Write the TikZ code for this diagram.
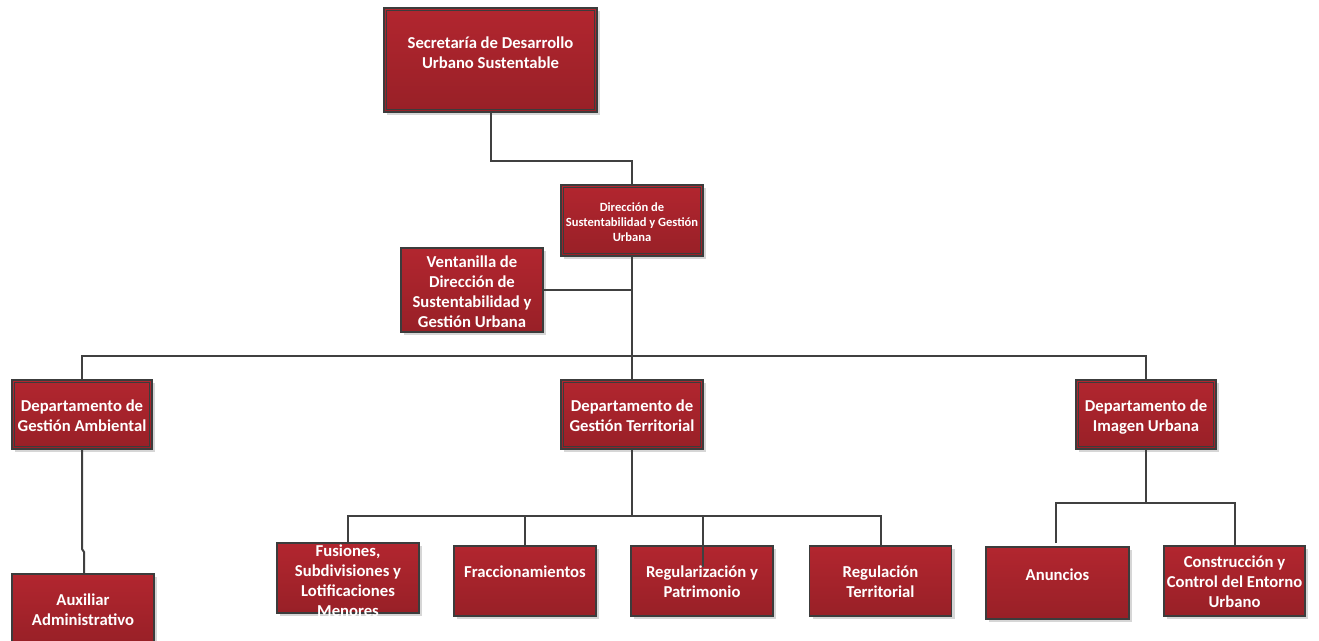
\documentclass[tikz,border=0pt]{standalone}
\usepackage{fontspec}
\setmainfont{Carlito}
\usetikzlibrary{shadows}
\definecolor{boxtop}{HTML}{B2262F}
\definecolor{boxbot}{HTML}{982027}
\definecolor{edgec}{HTML}{3C3C3C}
\definecolor{wirec}{HTML}{404040}
\tikzset{
  orgbox/.style={rectangle, draw=edgec, line width=0.8pt, top color=boxtop, bottom color=boxbot,
    inner sep=0pt,
    general shadow={fill=black!16, shadow xshift=2.5pt, shadow yshift=-2.5pt}},
  dbl/.style={path picture={\draw[edgec, line width=0.6pt]
    ([shift={(2pt,-2pt)}]path picture bounding box.north west) rectangle
    ([shift={(-2pt,2pt)}]path picture bounding box.south east);}},
  boxtext/.style={text=white, font=\bfseries\fontsize{12.5}{15}\selectfont, align=center, inner sep=0pt,
    execute at begin node=\strut, execute at end node=\strut},
  smalltext/.style={boxtext, font=\bfseries\fontsize{9.4}{11.25}\selectfont},
  wire/.style={draw=wirec, line width=1.5pt},
}
\begin{document}
\begin{tikzpicture}[x=0.75pt,y=-0.75pt]
\useasboundingbox (0,0) rectangle (1319,641);
\fill[white] (0,0) rectangle (1319,641);

% boxes
\node[orgbox,dbl,minimum width=159.75pt,minimum height=78pt] (sec) at (490.5,60) {};
\node[boxtext] (sec-t) at (490.5,56) {Secretaría de Desarrollo\\Urbano Sustentable};

\node[orgbox,dbl,minimum width=106.5pt,minimum height=53.25pt] (dir) at (632,220.5) {};
\node[smalltext] (dir-t) at ([yshift=-3pt]dir.center) {Dirección de\\Sustentabilidad y Gestión\\Urbana};

\node[orgbox,minimum width=106.5pt,minimum height=63pt] (ven) at (472,290) {};
\node[boxtext] (ven-t) at ([yshift=-3.5pt]ven.center) {Ventanilla de\\Dirección de\\Sustentabilidad y\\Gestión Urbana};

\node[orgbox,dbl,minimum width=105pt,minimum height=51.75pt] (amb) at (82,414.5) {};
\node[boxtext] (amb-t) at ([yshift=-3pt]amb.center) {Departamento de\\Gestión Ambiental};
\node[orgbox,dbl,minimum width=106.5pt,minimum height=51.75pt] (ter) at (632,414.5) {};
\node[boxtext] (ter-t) at ([yshift=-3pt]ter.center) {Departamento de\\Gestión Territorial};
\node[orgbox,dbl,minimum width=105pt,minimum height=51.75pt] (img) at (1146,414.5) {};
\node[boxtext] (img-t) at ([yshift=-3pt]img.center) {Departamento de\\Imagen Urbana};

\node[orgbox,minimum width=106.5pt,minimum height=52.5pt] (aux) at (83,609) {};
\node[boxtext] (aux-t) at ([yshift=-2.5pt]aux.center) {Auxiliar\\Administrativo};

\node[orgbox,minimum width=106.5pt,minimum height=52.5pt] (fus) at (348,578) {};
\node[boxtext] (fus-t) at ([yshift=-4pt]fus.center) {Fusiones,\\Subdivisiones y\\Lotificaciones\\Menores};
\node[orgbox,minimum width=106.5pt,minimum height=52.5pt] (fra) at (525,581) {};
\node[boxtext] (fra-t) at (525,573) {Fraccionamientos};
\node[orgbox,minimum width=106.5pt,minimum height=52.5pt] (reg) at (702,581) {};
\node[boxtext] (reg-t) at ([yshift=-3pt]reg.center) {Regularización y\\Patrimonio};
\node[orgbox,minimum width=106.5pt,minimum height=52.5pt] (rgt) at (880.5,581) {};
\node[boxtext] (rgt-t) at ([yshift=-3pt]rgt.center) {Regulación\\Territorial};

\node[orgbox,minimum width=107.25pt,minimum height=54pt] (anu) at (1057.5,583) {};
\node[boxtext] (anu-t) at (1057.5,576) {Anuncios};
\node[orgbox,minimum width=105.75pt,minimum height=52.5pt] (con) at (1234.5,581) {};
\node[boxtext] (con-t) at ([yshift=-3pt]con.center) {Construcción y\\Control del Entorno\\Urbano};

% connectors
\draw[wire] (sec.south) -- ++(0,48) -| (dir.north);
\coordinate (bus) at (632,356);
\draw[wire] (dir.south) -- (bus);
\draw[wire] (ven.east) -- (ven.east -| dir.south);
\draw[wire] (amb.north) |- (bus) -| (img.north);
\draw[wire] (bus) -- (ter.north);

\coordinate (j1) at (82,549);
\coordinate (j2) at (84,552);
\draw[wire] (amb.south) -- (j1) -- (j2) -- (j2 |- aux.north);

\coordinate (tb) at (632,516);
\draw[wire] (ter.south) -- (tb);
\draw[wire] (fus.north) |- (tb) -| (rgt.north);
\draw[wire] (fra.north) -- (fra.north |- tb);
\coordinate (rp) at (703,567);
\draw[wire] (rp |- tb) -- (rp);

\coordinate (ib) at (1146,503);
\coordinate (an) at (1056,543);
\draw[wire] (img.south) -- (ib);
\draw[wire] (an) |- (ib) -| (con.north);
\end{tikzpicture}
\end{document}
